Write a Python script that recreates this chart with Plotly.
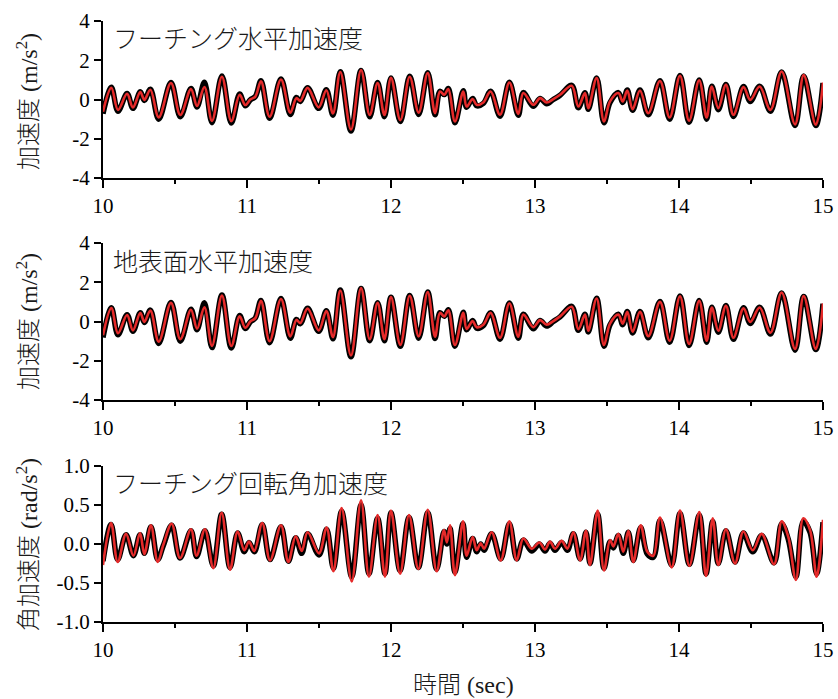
import plotly.graph_objects as go
from plotly.subplots import make_subplots

# ---------------- data ----------------
t_h = [10.000,10.058,10.104,10.167,10.208,10.259,10.287,10.329,10.387,10.472,10.537,10.611,10.653,10.704,10.757,10.826,10.891,10.949,10.988,11.023,
       11.058,11.097,11.157,11.236,11.301,11.343,11.370,11.421,11.498,11.551,11.597,11.648,11.722,11.792,11.852,11.907,11.954,12.000,12.065,12.130,
       12.192,12.255,12.306,12.340,12.370,12.398,12.444,12.502,12.525,12.567,12.595,12.641,12.692,12.757,12.822,12.884,12.919,12.988,13.035,13.081,
       13.127,13.174,13.255,13.301,13.347,13.370,13.428,13.479,13.521,13.579,13.609,13.641,13.678,13.729,13.787,13.868,13.935,14.007,14.070,14.140,
       14.192,14.228,14.273,14.326,14.378,14.448,14.495,14.560,14.635,14.713,14.806,14.866,14.950,15.000]

footing_h_red = [-0.62,0.59,-0.53,0.29,-0.40,0.38,-0.02,0.50,-0.91,0.84,-0.79,0.53,-0.33,0.64,-1.09,1.16,-1.10,0.24,-0.28,0.00,
                 0.15,0.93,-0.88,1.02,-0.67,0.07,-0.07,0.59,-0.40,0.47,-0.71,1.40,-1.53,1.50,-0.79,0.84,-0.79,1.10,-1.05,1.16,
                 -0.67,1.35,-0.70,0.41,0.24,0.53,-1.12,0.41,-0.36,0.02,-0.27,-0.15,0.41,-0.78,0.87,-0.73,0.33,-0.27,0.07,-0.15,
                 0.02,0.24,0.70,-0.36,0.33,-0.44,1.09,-1.12,-0.10,0.33,-0.10,0.46,-0.49,0.46,-0.70,0.94,-0.92,1.21,-1.08,0.98,
                 -0.92,0.66,-0.44,0.75,-0.78,0.63,-0.02,0.66,-0.53,1.43,-1.27,1.24,-1.29,0.86]

footing_h_black = [-0.72,0.62,-0.60,0.30,-0.45,0.40,-0.05,0.52,-1.00,0.86,-0.88,0.56,-0.38,0.88,-1.18,1.20,-1.20,0.28,-0.32,-0.02,
                   0.15,0.95,-0.96,1.05,-0.76,0.10,-0.10,0.60,-0.45,0.50,-0.80,1.42,-1.60,1.48,-0.88,0.86,-0.88,1.10,-1.12,1.18,
                   -0.76,1.36,-0.78,0.42,0.25,0.56,-1.18,0.45,-0.40,0.05,-0.32,-0.20,0.42,-0.85,0.88,-0.80,0.35,-0.35,0.05,-0.22,
                   0.00,0.22,0.72,-0.42,0.35,-0.50,1.10,-1.18,-0.15,0.35,-0.15,0.48,-0.55,0.48,-0.78,0.96,-1.00,1.22,-1.16,1.00,
                   -1.00,0.68,-0.52,0.76,-0.86,0.66,-0.10,0.68,-0.60,1.40,-1.33,1.20,-1.33,0.84]

ground_h_red = [-0.70,0.68,-0.60,0.33,-0.45,0.43,-0.02,0.56,-1.03,0.95,-0.90,0.60,-0.37,0.72,-1.24,1.32,-1.25,0.27,-0.32,0.00,
                0.17,1.05,-1.00,1.15,-0.76,0.08,-0.08,0.66,-0.45,0.53,-0.80,1.58,-1.73,1.70,-0.90,0.95,-0.90,1.24,-1.19,1.31,
                -0.76,1.50,-0.78,0.44,0.26,0.57,-1.20,0.44,-0.38,0.02,-0.29,-0.16,0.44,-0.83,0.93,-0.78,0.35,-0.29,0.07,-0.16,
                0.02,0.26,0.75,-0.39,0.35,-0.47,1.17,-1.20,-0.11,0.35,-0.11,0.49,-0.52,0.49,-0.75,1.00,-0.98,1.29,-1.15,1.05,
                -0.98,0.71,-0.47,0.80,-0.83,0.67,-0.02,0.71,-0.57,1.48,-1.40,1.30,-1.40,0.92]

ground_h_black = [-0.82,0.70,-0.68,0.35,-0.50,0.45,-0.05,0.58,-1.12,0.97,-1.00,0.62,-0.42,0.95,-1.33,1.35,-1.35,0.30,-0.36,-0.02,
                  0.18,1.07,-1.08,1.17,-0.85,0.10,-0.12,0.67,-0.50,0.55,-0.88,1.60,-1.80,1.68,-0.98,0.96,-0.98,1.24,-1.26,1.33,
                  -0.85,1.50,-0.86,0.45,0.27,0.60,-1.26,0.47,-0.42,0.05,-0.34,-0.21,0.45,-0.90,0.94,-0.85,0.37,-0.37,0.05,-0.23,
                  0.00,0.24,0.77,-0.45,0.37,-0.53,1.18,-1.26,-0.16,0.37,-0.16,0.51,-0.58,0.51,-0.83,1.02,-1.06,1.30,-1.22,1.07,
                  -1.06,0.73,-0.55,0.81,-0.91,0.70,-0.10,0.73,-0.64,1.45,-1.46,1.27,-1.43,0.90]

t_r = [10.000,10.056,10.102,10.160,10.211,10.257,10.287,10.333,10.380,10.419,10.477,10.535,10.611,10.650,10.708,10.766,10.824,10.882,10.935,10.981,
       11.014,11.051,11.106,11.160,11.236,11.287,11.338,11.380,11.421,11.500,11.553,11.600,11.657,11.727,11.792,11.847,11.907,11.958,12.000,12.063,
       12.125,12.190,12.255,12.317,12.368,12.388,12.410,12.444,12.500,12.525,12.567,12.595,12.623,12.646,12.699,12.762,12.822,12.873,12.919,12.977,
       13.030,13.069,13.104,13.139,13.185,13.225,13.266,13.313,13.354,13.382,13.435,13.479,13.521,13.544,13.579,13.613,13.648,13.683,13.734,13.780,
       13.822,13.868,13.949,14.007,14.072,14.141,14.188,14.234,14.273,14.326,14.389,14.447,14.512,14.574,14.660,14.713,14.759,14.812,14.863,14.910,
       14.956,15.000]

footing_r_red = [-0.27,0.27,-0.23,0.13,-0.15,0.14,-0.13,0.24,-0.23,-0.01,0.26,-0.18,0.19,-0.15,0.19,-0.31,0.40,-0.33,0.16,-0.08,
                 0.03,-0.09,0.27,-0.21,0.24,-0.23,0.10,-0.09,0.15,-0.12,0.21,-0.35,0.46,-0.48,0.56,-0.42,0.37,-0.42,0.43,-0.38,
                 0.37,-0.32,0.44,-0.35,0.18,0.02,0.24,-0.40,0.29,-0.15,0.09,-0.08,0.01,-0.06,0.15,-0.21,0.29,-0.21,0.07,-0.06,
                 0.02,-0.07,0.03,-0.06,0.04,-0.06,0.15,-0.21,0.17,-0.27,0.43,-0.34,0.05,-0.03,0.13,-0.10,0.17,-0.23,0.24,-0.10,
                 -0.15,0.34,-0.30,0.43,-0.28,0.41,-0.41,0.33,-0.27,0.19,-0.25,0.16,-0.08,0.13,-0.26,0.29,0.09,-0.46,0.33,0.18,
                 -0.42,0.31]

footing_r_black = [-0.22,0.25,-0.20,0.12,-0.15,0.12,-0.12,0.22,-0.20,-0.02,0.24,-0.18,0.17,-0.16,0.17,-0.28,0.38,-0.30,0.14,-0.10,
                   0.02,-0.10,0.25,-0.20,0.22,-0.22,0.08,-0.12,0.13,-0.14,0.19,-0.31,0.42,-0.42,0.50,-0.38,0.33,-0.38,0.40,-0.34,
                   0.34,-0.30,0.40,-0.32,0.16,0.00,0.20,-0.36,0.26,-0.17,0.07,-0.10,0.00,-0.08,0.13,-0.19,0.26,-0.19,0.05,-0.09,
                   0.00,-0.09,0.01,-0.08,0.02,-0.08,0.13,-0.19,0.15,-0.25,0.38,-0.31,0.03,-0.05,0.11,-0.12,0.15,-0.21,0.21,-0.13,
                   -0.17,0.30,-0.27,0.39,-0.26,0.37,-0.38,0.29,-0.25,0.17,-0.23,0.14,-0.10,0.11,-0.24,0.26,0.06,-0.42,0.29,0.15,
                   -0.38,0.28]

x_ticks = [10, 11, 12, 13, 14, 15]
x_ticktext = ["10", "11", "12", "13", "14", "15"]
y_ticks_acc = [-4, -2, 0, 2, 4]
y_ticktext_acc = ["-4", "-2", "0", "2", "4"]
y_ticks_rot = [-1.0, -0.5, 0.0, 0.5, 1.0]
y_ticktext_rot = ["-1.0", "-0.5", "0.0", "0.5", "1.0"]

panel_labels = ["フーチング水平加速度", "地表面水平加速度", "フーチング回転角加速度"]
y_titles = ["加速度 (m/s<sup>2</sup>)", "加速度 (m/s<sup>2</sup>)", "角加速度 (rad/s<sup>2</sup>)"]
x_title = "時間 (sec)"

# ---------------- figure ----------------
RED = "#e52a2a"
BLACK = "#000000"
SERIF = "Liberation Serif, Noto Sans CJK JP, serif"
CJK = "Noto Sans CJK JP, sans-serif"

fig = make_subplots(rows=3, cols=1)

series = [
    (t_h, footing_h_black, footing_h_red),
    (t_h, ground_h_black, ground_h_red),
    (t_r, footing_r_black, footing_r_red),
]
for i, (tt, blk, red) in enumerate(series, start=1):
    fig.add_trace(go.Scatter(x=tt, y=blk, mode="lines",
                             line=dict(color=BLACK, width=5.5, shape="spline", smoothing=1.0),
                             showlegend=False, hoverinfo="skip"), row=i, col=1)
    fig.add_trace(go.Scatter(x=tt, y=red, mode="lines",
                             line=dict(color=RED, width=2.6, shape="spline", smoothing=1.0),
                             showlegend=False, hoverinfo="skip"), row=i, col=1)

# margins / domains in pixels
W, H = 838, 699
L, R, T, B = 103, 15, 21, 77
ph = H - T - B
def ydom(top_px, bot_px):
    return [(H - B - bot_px) / ph, (H - B - top_px) / ph]

domains = [ydom(21, 178), ydom(243, 400), ydom(466, 622)]
yranges = [[-4, 4], [-4, 4], [-1, 1]]
yticks = [(y_ticks_acc, y_ticktext_acc), (y_ticks_acc, y_ticktext_acc), (y_ticks_rot, y_ticktext_rot)]

for i in range(3):
    xa = "xaxis" if i == 0 else f"xaxis{i+1}"
    ya = "yaxis" if i == 0 else f"yaxis{i+1}"
    fig.layout[xa].update(
        domain=[0, 1], automargin=False,
        range=[10, 15], tickmode="array", tickvals=x_ticks, ticktext=x_ticktext,
        ticks="outside", ticklen=8, tickwidth=2, tickcolor="black",
        showline=True, linewidth=2, linecolor="black", showgrid=False, zeroline=False,
        minor=dict(tickmode="linear", tick0=10, dtick=0.5, ticks="outside", ticklen=4,
                   tickwidth=2, tickcolor="black", showgrid=False),
        tickfont=dict(family=SERIF, size=21, color="black"),
    )
    fig.layout[ya].update(
        automargin=False,
        domain=domains[i], range=yranges[i], tickmode="array",
        tickvals=yticks[i][0], ticktext=yticks[i][1],
        ticks="outside", ticklen=7, tickwidth=2, tickcolor="black",
        showline=True, linewidth=2, linecolor="black", showgrid=False, zeroline=False,
        tickfont=dict(family=SERIF, size=21, color="black"),
    )

label_y = [(H - B - 37) / ph, (H - B - 260) / ph, (H - B - 482) / ph]
ytitle_y = [(H - B - 102) / ph, (H - B - 322) / ph, (H - B - 545) / ph]
for i in range(3):
    fig.add_annotation(text=panel_labels[i], xref="paper", yref="paper",
                       x=(111 - L) / (W - L - R), y=label_y[i], xanchor="left", yanchor="middle",
                       showarrow=False, font=dict(family=CJK, size=25, color="#1a1a1a", weight=300))
    fig.add_annotation(text=y_titles[i], xref="paper", yref="paper",
                       x=(27 - L) / (W - L - R), y=ytitle_y[i], xanchor="center", yanchor="middle",
                       textangle=-90, showarrow=False, font=dict(family=SERIF, size=24, color="#1a1a1a", weight=300))

fig.add_annotation(text=x_title, xref="paper", yref="paper",
                   x=(463 - L) / (W - L - R), y=(H - B - 685) / ph, xanchor="center", yanchor="middle",
                   showarrow=False, font=dict(family=SERIF, size=24, color="#1a1a1a", weight=300))

fig.update_layout(width=W, height=H, margin=dict(l=L, r=R, t=T, b=B, autoexpand=False),
                  paper_bgcolor="white", plot_bgcolor="white", showlegend=False)

fig.write_html("out.html", config={"displayModeBar": False},
               post_script="document.body.style.margin='0';document.body.style.padding='0';")
